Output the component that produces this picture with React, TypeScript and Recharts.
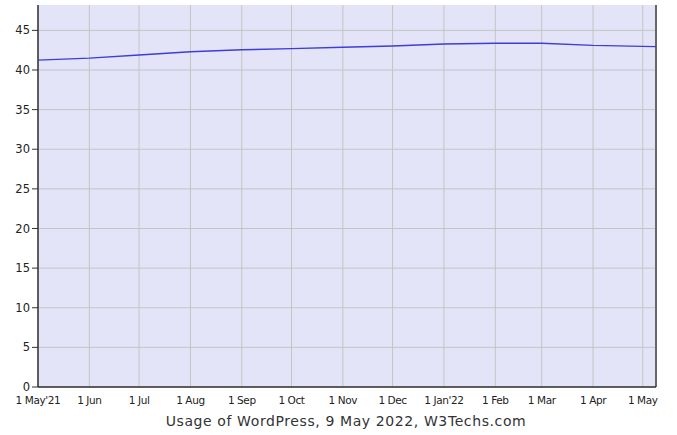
import React from 'react';
import { CartesianGrid, Line, LineChart, ReferenceLine, XAxis, YAxis } from 'recharts';

// days since 1 May 2021
const dayOffsets = [0, 31, 61, 92, 123, 153, 184, 214, 245, 276, 304, 335, 365, 373];
const usage = [41.25, 41.5, 41.9, 42.3, 42.55, 42.7, 42.87, 43.03, 43.27, 43.38, 43.38, 43.1, 42.98, 42.95];

const tickDays = [0, 31, 61, 92, 123, 153, 184, 214, 245, 276, 304, 335, 365];
const tickLabels = ['1 May\'21', '1 Jun', '1 Jul', '1 Aug', '1 Sep', '1 Oct', '1 Nov', '1 Dec', '1 Jan\'22', '1 Feb', '1 Mar', '1 Apr', '1 May'];
const yTicks = [0, 5, 10, 15, 20, 25, 30, 35, 40, 45];

const data = dayOffsets.map((d, i) => ({ day: d, value: usage[i] }));

const font = '"DejaVu Sans", Verdana, sans-serif';

export default function App() {
    return (
        <div style={{ position: 'absolute', left: 0, top: 0, width: 677, height: 435, background: '#fff', fontFamily: font }}>
            <LineChart width={677} height={435} data={data} margin={{ top: 5, right: 21, left: 0, bottom: 28 }}>
                <CartesianGrid stroke="#c4c4c4" fill="#e4e4f8" horizontalValues={yTicks} verticalValues={tickDays} />
                <XAxis
                    dataKey="day"
                    type="number"
                    domain={[0, 373]}
                    ticks={tickDays}
                    tickFormatter={(v: number) => tickLabels[tickDays.indexOf(v)]}
                    interval={0}
                    height={20}
                    tickLine={false}
                    axisLine={{ stroke: '#333', strokeWidth: 1.5 }}
                    tick={{ fontSize: 10.5, fill: '#222', fontFamily: font, letterSpacing: -0.4 }}
                    tickMargin={4}
                />
                <YAxis
                    type="number"
                    domain={[0, 48.2]}
                    allowDataOverflow
                    ticks={yTicks}
                    width={38}
                    tickSize={6}
                    tickLine={{ stroke: '#333' }}
                    axisLine={{ stroke: '#333', strokeWidth: 1.5 }}
                    tick={{ fontSize: 11.5, fill: '#222', fontFamily: font }}
                />
                <ReferenceLine x={373} stroke="#666" strokeWidth={2} />
                <Line
                    type="linear"
                    dataKey="value"
                    stroke="#3d3dd8"
                    strokeWidth={1.4}
                    dot={false}
                    isAnimationActive={false}
                />
            </LineChart>
            <div style={{ position: 'absolute', left: 0, width: 692, top: 413, textAlign: 'center', fontSize: 14, letterSpacing: 0.6, color: '#333' }}>
                Usage of WordPress, 9 May 2022, W3Techs.com
            </div>
        </div>
    );
}
